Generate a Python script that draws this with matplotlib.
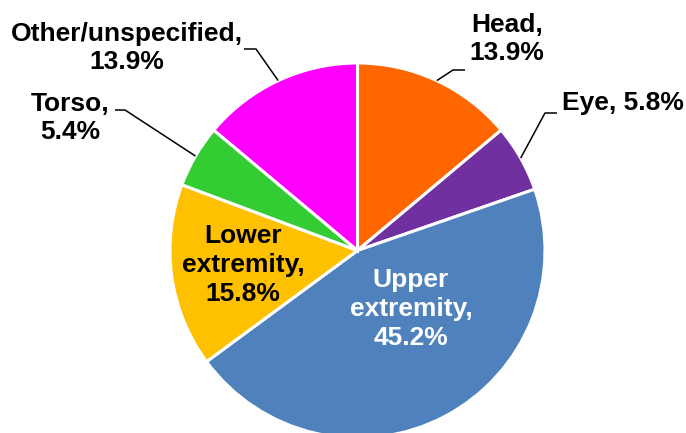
import numpy as np
import matplotlib
matplotlib.use("Agg")
import matplotlib.pyplot as plt

categories = ["Head", "Eye", "Upper\nextremity", "Lower\nextremity", "Torso", "Other/unspecified"]
values = [13.9, 5.8, 45.2, 15.8, 5.4, 13.9]
colors = ["#FF6600", "#7030A0", "#4F81BD", "#FFC000", "#33CC33", "#FF00FF"]
labels = ["Head,\n13.9%", "Eye, 5.8%", "Upper\nextremity,\n45.2%", "Lower\nextremity,\n15.8%",
          "Torso,\n5.4%", "Other/unspecified,\n13.9%"]

plt.rcParams['font.family'] = ['Liberation Sans', 'DejaVu Sans']

W, H = 686, 433
fig = plt.figure(figsize=(W / 100, H / 100), dpi=100)
cx, cy, R = 357.5, 250.5, 187.5
ax = fig.add_axes([(cx - R) / W, (H - cy - R) / H, 2 * R / W, 2 * R / H])
ax.set_xlim(-1, 1)
ax.set_ylim(-1, 1)
ax.set_aspect('equal')
ax.axis('off')

wedges, _ = ax.pie(values, colors=colors, startangle=90, counterclock=False,
                   radius=1, center=(0, 0), frame=False,
                   wedgeprops=dict(edgecolor='white', linewidth=2.2))
ax.set_xlim(-1, 1)
ax.set_ylim(-1, 1)
for w in wedges:
    w.set_clip_on(False)

def px(x, y):
    return ((x - cx) / R, (cy - y) / R)

# label positions (pixel layout), text color, leader elbow (pixels)
layout = [
    dict(pos=(507, 39), color='black', elbow=[(453, 70), (465, 70)]),
    dict(pos=(623, 103), color='black', elbow=[(545, 113), (557, 113)]),
    dict(pos=(411, 309), color='white', elbow=None),
    dict(pos=(243, 265), color='black', elbow=None),
    dict(pos=(70, 118), color='black', elbow=[(125, 110), (115, 110)]),
    dict(pos=(127, 48), color='black', elbow=[(256, 49), (244, 49)]),
]

total = sum(values)
cum = 0.0
for v, lab, lay in zip(values, labels, layout):
    mid = 90 - (cum + v / 2) / total * 360
    cum += v
    tx, ty = px(*lay['pos'])
    ax.text(tx, ty, lab, ha='center', va='center', fontsize=19, fontweight='bold',
            color=lay['color'], linespacing=1.25, clip_on=False)
    if lay['elbow']:
        p0 = (np.cos(np.radians(mid)), np.sin(np.radians(mid)))
        e1 = px(*lay['elbow'][0])
        e2 = px(*lay['elbow'][1])
        ax.plot([p0[0], e1[0], e2[0]], [p0[1], e1[1], e2[1]], color='black', lw=1.1,
                clip_on=False, solid_capstyle='butt')

fig.savefig("out.png", dpi=100)
